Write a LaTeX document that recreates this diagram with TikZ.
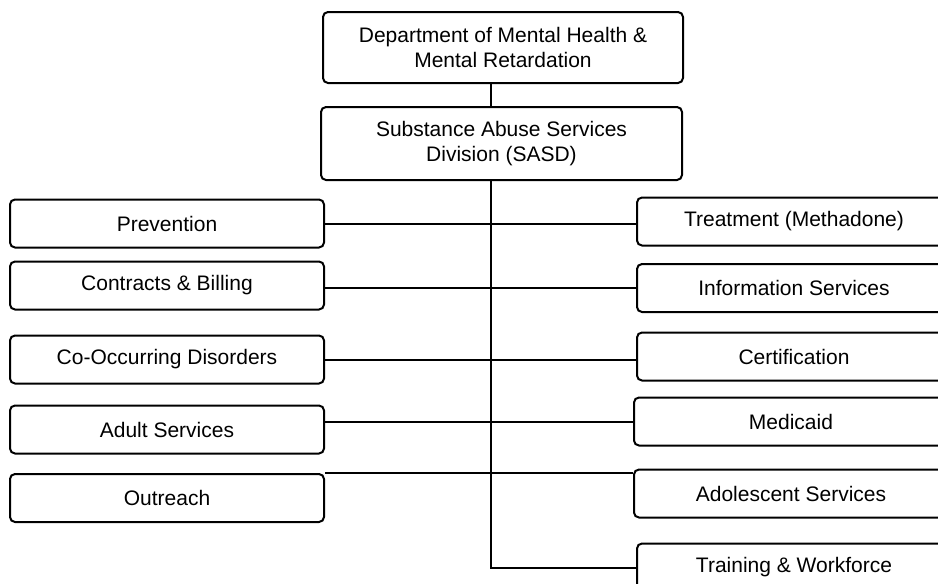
\documentclass[tikz,border=0pt]{standalone}
\usepackage{fontspec}
\setmainfont{Liberation Sans}

\begin{document}
\begin{tikzpicture}[x=0.5pt,y=-0.5pt,
		office/.style={draw,line width=1pt,rounded corners=2.5pt,inner sep=0pt,align=center,font=\fontsize{10.5}{12.5}\selectfont},
		unit/.style={office,minimum width=157pt,minimum height=24pt},
		link/.style={line width=1pt}]
					\useasboundingbox (0,0) rectangle (938,584);
					\clip (0,0) rectangle (938,584);
					%HEADS
					\node[office,minimum width=180pt,minimum height=35.5pt] (dmhmr) at (503,47.5) {Department of Mental Health \&\\Mental Retardation};
					\node[office,minimum width=180.5pt,minimum height=36.5pt] (sasd) at (501.5,143.5) {Substance Abuse Services\\Division (SASD)};
					\coordinate (trunk) at (491,0);
					%LEFT UNITS
					\node[unit] (prev) at (167,223.5) {Prevention};
					\node[unit] (bill) at (167,285.5) {Contracts \& Billing};
					\node[unit] (cod) at (167,359.5) {Co-Occurring Disorders};
					\node[unit] (adult) at (167,429.5) {Adult Services};
					\node[unit] (outr) at (167,498) {Outreach};
					%RIGHT UNITS
					\node[unit] (treat) at (794,221.5) {Treatment (Methadone)};
					\node[unit] (info) at (794,288) {Information Services};
					\node[unit] (cert) at (794,356.5) {Certification};
					\node[unit] (medic) at (791,421.5) {Medicaid};
					\node[unit] (adol) at (791,493.5) {Adolescent Services};
					\node[unit] (train) at (794,567.5) {Training \& Workforce};
					%LINKS
					\draw[link] (dmhmr.south -| trunk) -- (sasd.north -| trunk);
					\draw[link] (sasd.south -| trunk) -- (trunk |- train.west) -- (train.west);
					\draw[link] (prev.east) -- (prev.east -| treat.west);
					\draw[link] (info.west) -- (info.west -| bill.east);
					\draw[link] (cod.east) -- (cod.east -| cert.west);
					\draw[link] (medic.west) -- (medic.west -| adult.east);
					\draw[link] (outr.north east) -- (outr.north east -| adol.west);
	  \end{tikzpicture}
\end{document}
